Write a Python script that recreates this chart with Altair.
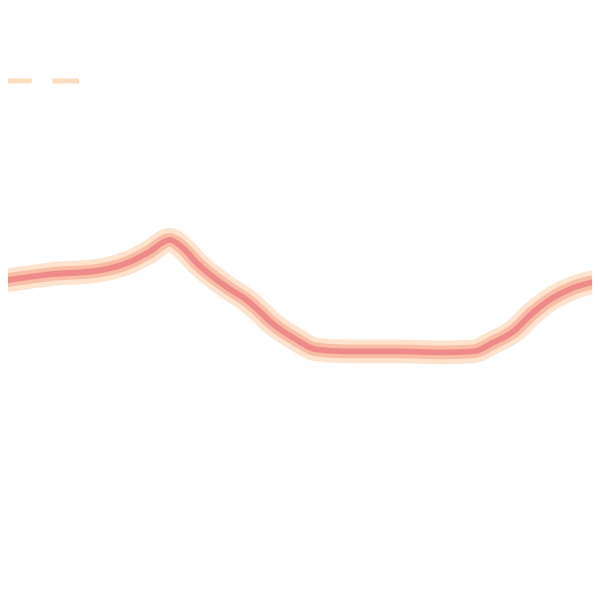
import altair as alt
import pandas as pd

# trace of the glowing line (x position, level)
xs = [0, 50, 100, 130, 150, 172, 185, 200, 230, 250, 280, 300, 320, 350, 400, 450, 480, 500, 520, 540, 560, 580, 600]
ys = [319, 326, 330, 338, 348, 361, 353, 337, 313, 300, 273, 260, 250, 248, 248, 247, 248, 257, 268, 287, 302, 312, 318]

# dashed reference segment
ref_x = [0, 80]
ref_y = [522, 522]

df = pd.DataFrame({"x": xs, "y": ys})
ref = pd.DataFrame({"x": ref_x, "y": ref_y})

xsc = alt.Scale(domain=[8, 600], nice=False, zero=False)
ysc = alt.Scale(domain=[0, 592], nice=False, zero=False)
X = alt.X("x:Q", scale=xsc, axis=None)
Y = alt.Y("y:Q", scale=ysc, axis=None)

def line(width, color, opacity=1.0):
    return alt.Chart(df).mark_line(
        strokeWidth=width, color=color, opacity=opacity, interpolate="monotone",
        strokeCap="round", strokeJoin="round", clip=True
    ).encode(x=X, y=Y)

glow = line(24, "#fee4cf")
mid = line(14, "#f9bda6")
core = line(6, "#ee8a8a")

dash = alt.Chart(ref).mark_line(
    strokeWidth=5, color="#fddcc0", strokeDash=[32, 21], clip=True
).encode(x=X, y=Y)

chart = alt.layer(dash, glow, mid, core).properties(
    width=592, height=592,
    autosize=alt.AutoSizeParams(type="fit", contains="padding"),
    padding=0,
).configure(background="white").configure_view(strokeWidth=0, stroke="transparent")

chart.save("out.html", embed_options={"renderer": "svg", "actions": False})
